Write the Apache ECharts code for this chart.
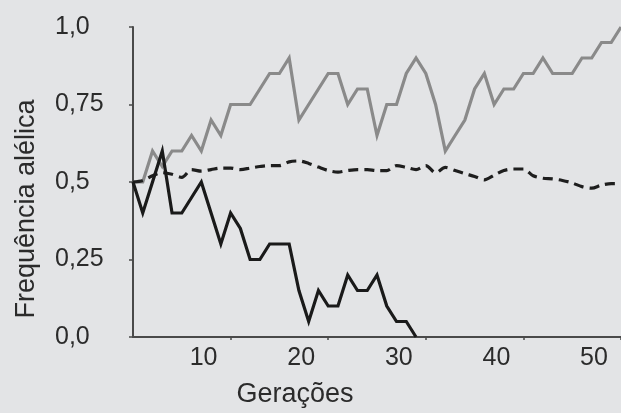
<!DOCTYPE html>
<html>
<head>
<meta charset="utf-8">
<script src="https://cdn.jsdelivr.net/npm/echarts@6/dist/echarts.min.js"></script>
<style>
html,body{margin:0;padding:0;background:#e3e4e6;}
#c{width:621px;height:413px;}
</style>
</head>
<body>
<div id="c"></div>
<script>
// Generation index for each value is its position in the array (0, 1, 2, ...)
const grayValues = [0.5,0.5,0.6,0.55,0.6,0.6,0.65,0.6,0.7,0.65,
  0.75,0.75,0.75,0.8,0.85,0.85,0.9,0.7,0.75,0.8,
  0.85,0.85,0.75,0.8,0.8,0.65,0.75,0.75,0.85,0.9,
  0.85,0.75,0.6,0.65,0.7,0.8,0.85,0.75,0.8,0.8,
  0.85,0.85,0.9,0.85,0.85,0.85,0.9,0.9,0.95,0.95,1.0];
const blackValues = [0.5,0.4,0.5,0.6,0.4,0.4,0.45,0.5,0.4,0.3,
  0.4,0.35,0.25,0.25,0.3,0.3,0.3,0.15,0.05,0.15,
  0.1,0.1,0.2,0.15,0.15,0.2,0.1,0.05,0.05,0.0];
const dashedValues = [0.5,0.505,0.52,0.53,0.525,0.515,0.54,0.535,0.54,0.545,
  0.545,0.54,0.545,0.55,0.553,0.553,0.565,0.568,0.56,0.548,
  0.537,0.532,0.537,0.54,0.54,0.537,0.537,0.553,0.547,0.54,
  0.553,0.53,0.547,0.537,0.527,0.518,0.507,0.522,0.537,0.542,
  0.542,0.52,0.512,0.51,0.505,0.497,0.485,0.48,0.49,0.495,0.495];
const yTickValues = [0, 0.25, 0.5, 0.75, 1.0];
const yTickLabels = ['0,0', '0,25', '0,5', '0,75', '1,0'];
const xTickLabels = ['10', '20', '30', '40', '50'];

const toPairs = arr => arr.map((v, i) => [i, v]);
const axisColor = '#4a4a4a';
const textColor = '#2b2b2b';
const fontFamily = 'Liberation Sans, Arial, sans-serif';

const chart = echarts.init(document.getElementById('c'), null, {renderer: 'canvas'});
chart.setOption({
  backgroundColor: '#e3e4e6',
  animation: false,
  grid: {left: 133, top: 27, right: -5, bottom: 70, containLabel: false},
  xAxis: {
    type: 'value', min: 0, max: 50, interval: 10,
    name: 'Gerações', nameLocation: 'middle', nameGap: 44,
    nameTextStyle: {fontSize: 27, color: textColor, fontFamily: fontFamily, padding: [0, 164, 0, 0]},
    axisLine: {show: true, lineStyle: {color: axisColor, width: 2}},
    axisTick: {show: true, length: 3, lineStyle: {color: axisColor, width: 1.5}},
    splitLine: {show: false},
    axisLabel: {
      showMinLabel: false, margin: 9, fontSize: 25, color: textColor, fontFamily: fontFamily,
      padding: [0, 54, 0, 0],
      formatter: v => { const i = xTickLabels.indexOf(String(v)); return i >= 0 ? xTickLabels[i] : ''; }
    }
  },
  yAxis: {
    type: 'value', min: 0, max: 1, interval: 0.25,
    name: 'Frequência alélica', nameLocation: 'middle', nameGap: 93,
    nameTextStyle: {fontSize: 27, color: textColor, fontFamily: fontFamily, padding: [0, 54, 0, 0]},
    axisLine: {show: true, lineStyle: {color: axisColor, width: 2}},
    axisTick: {show: true, length: 4, lineStyle: {color: axisColor, width: 1.5}},
    splitLine: {show: false},
    axisLabel: {
      margin: 78, align: 'left', fontSize: 25, color: textColor, fontFamily: fontFamily,
      padding: [0, 0, 12, 0],
      formatter: v => { const i = yTickValues.findIndex(t => Math.abs(t - v) < 1e-9); return i >= 0 ? yTickLabels[i] : ''; }
    }
  },
  series: [
    {type: 'line', data: toPairs(grayValues), symbol: 'none', clip: true,
     lineStyle: {color: '#8a8a8a', width: 3.2, join: 'miter'}, z: 2},
    {type: 'line', data: toPairs(dashedValues), symbol: 'none', smooth: 0.3, clip: true,
     lineStyle: {color: '#1e1e1e', width: 3.2, type: [10, 6]}, z: 3},
    {type: 'line', data: toPairs(blackValues), symbol: 'none', clip: true,
     lineStyle: {color: '#1a1a1a', width: 3.2, join: 'miter'}, z: 4}
  ]
});
</script>
</body>
</html>
